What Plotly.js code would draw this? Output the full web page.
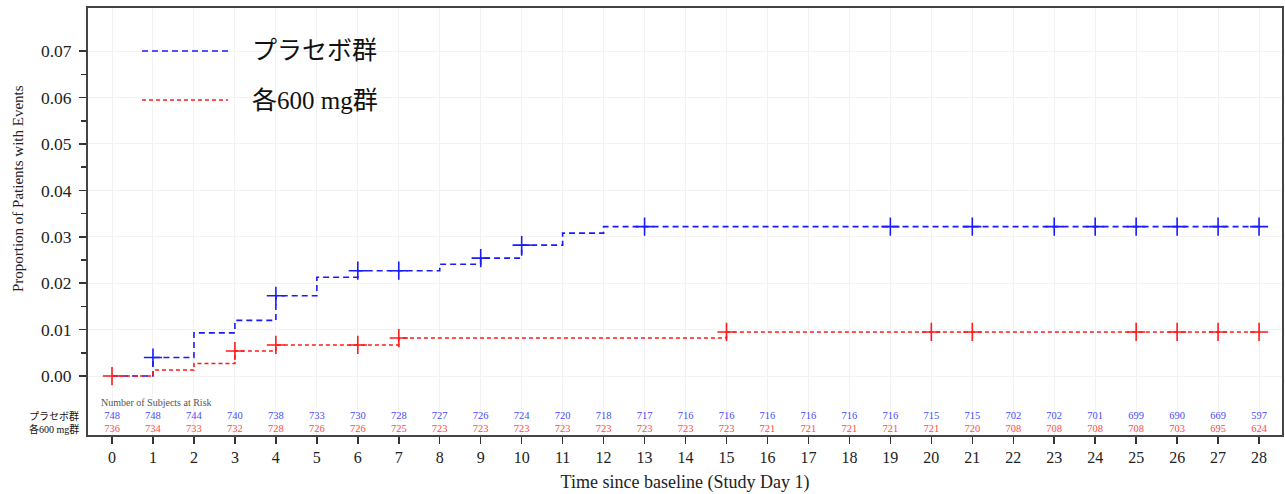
<!DOCTYPE html>
<html>
<head>
<meta charset="utf-8">
<script src="https://cdn.plot.ly/plotly-3.0.1.min.js"></script>
<style>html,body{margin:0;padding:0;background:#fff;}#chart{width:1285px;height:494px;}</style>
</head>
<body>
<div id="chart"></div>
<script>
// ---- data ----
const seriesNames = ["プラセボ群", "各600 mg群"];
const days = [0,1,2,3,4,5,6,7,8,9,10,11,12,13,14,15,16,17,18,19,20,21,22,23,24,25,26,27,28];

const placeboTimes = [0, 1, 2, 3, 4, 5, 6, 8, 9, 10, 11, 12, 28];
const placeboProp  = [0, 0.0040, 0.0093, 0.0120, 0.0173, 0.0213, 0.0227, 0.0241, 0.0254, 0.0282, 0.0308, 0.0322, 0.0322];
const placeboCensor = [1, 4, 6, 7, 9, 10, 13, 19, 21, 23, 24, 25, 26, 27, 28];

const activeTimes = [0, 1, 2, 3, 4, 7, 15, 28];
const activeProp  = [0, 0.0013, 0.0027, 0.0054, 0.0067, 0.0082, 0.0095, 0.0095];
const activeCensor = [0, 3, 4, 6, 7, 15, 20, 21, 25, 26, 27, 28];

const placeboAtRisk = [748,748,744,740,738,733,730,728,727,726,724,720,718,717,716,716,716,716,716,716,715,715,702,702,701,699,690,669,597];
const activeAtRisk  = [736,734,733,732,728,726,726,725,723,723,723,723,723,723,723,723,721,721,721,721,721,720,708,708,708,708,703,695,624];

const atRiskTitle = "Number of Subjects at Risk";
const xTitle = "Time since baseline (Study Day 1)";
const yTitle = "Proportion of Patients with Events";
const yTickVals = [0, 0.01, 0.02, 0.03, 0.04, 0.05, 0.06, 0.07];

// ---- helpers ----
function stepAt(times, vals, t) {
  let v = vals[0];
  for (let i = 0; i < times.length; i++) { if (times[i] <= t) v = vals[i]; }
  return v;
}

const BLUE = '#1a1aff', RED = '#ff1a1a';
const SERIF = '"Liberation Serif", "Times New Roman", "Noto Sans CJK JP", serif';

const traces = [
  {x: placeboTimes, y: placeboProp, mode: 'lines', line: {shape: 'hv', color: BLUE, width: 1.6, dash: '6px,4px'}, showlegend: false, hoverinfo: 'skip'},
  {x: activeTimes, y: activeProp, mode: 'lines', line: {shape: 'hv', color: RED, width: 1.6, dash: '4px,3px'}, showlegend: false, hoverinfo: 'skip'},
  {x: placeboCensor, y: placeboCensor.map(t => stepAt(placeboTimes, placeboProp, t)), mode: 'markers',
   marker: {symbol: 'cross-thin-open', size: 13, color: BLUE, line: {color: BLUE, width: 1.6}}, showlegend: false},
  {x: activeCensor, y: activeCensor.map(t => stepAt(activeTimes, activeProp, t)), mode: 'markers',
   marker: {symbol: 'cross-thin-open', size: 13, color: RED, line: {color: RED, width: 1.6}}, showlegend: false},
  {x: days, y: days.map(() => -0.0086), mode: 'text', text: placeboAtRisk.map(String),
   textfont: {family: SERIF, size: 10.5, color: '#4a4aff'}, showlegend: false, hoverinfo: 'skip'},
  {x: days, y: days.map(() => -0.0114), mode: 'text', text: activeAtRisk.map(String),
   textfont: {family: SERIF, size: 10.5, color: '#ff4a4a'}, showlegend: false, hoverinfo: 'skip'}
];

const layout = {
  width: 1285, height: 494,
  margin: {l: 88, r: 3, t: 8, b: 59},
  paper_bgcolor: '#fff', plot_bgcolor: '#fff',
  font: {family: SERIF, color: '#222'},
  showlegend: false,
  xaxis: {
    range: [-0.586, 28.56],
    tickvals: days, ticktext: days.map(String),
    ticks: 'outside', ticklen: 7, tickwidth: 1.5, tickcolor: '#333',
    tickfont: {family: SERIF, size: 16, color: '#222'},
    showgrid: true, gridcolor: '#f2f2f2', gridwidth: 1,
    zeroline: false,
    showline: true, linecolor: '#444', linewidth: 2, mirror: true,
    title: {text: xTitle, font: {family: SERIF, size: 18, color: '#222'}, standoff: 10}
  },
  yaxis: {
    range: [-0.0127, 0.0793],
    tickvals: yTickVals, ticktext: yTickVals.map(v => v.toFixed(2)),
    ticks: 'outside', ticklen: 7, tickwidth: 1.5, tickcolor: '#333',
    tickfont: {family: SERIF, size: 17.5, color: '#222'},
    ticklabelstandoff: 4,
    showgrid: true, gridcolor: '#f2f2f2', gridwidth: 1,
    zeroline: false,
    showline: true, linecolor: '#444', linewidth: 2, mirror: true,
    minor: {tickvals: [0.005,0.015,0.025,0.035,0.045,0.055,0.065], ticks: 'outside', ticklen: 5, tickwidth: 1.5, tickcolor: '#333', showgrid: false}
  },
  shapes: [
    {type: 'line', xref: 'paper', yref: 'paper', x0: 0.0452, x1: 0.1173, y0: 0.8993, y1: 0.8993, line: {color: BLUE, width: 1.6, dash: '6px,4px'}},
    {type: 'line', xref: 'paper', yref: 'paper', x0: 0.0452, x1: 0.1173, y0: 0.7845, y1: 0.7845, line: {color: RED, width: 1.6, dash: '4px,3px'}}
  ],
  annotations: [
    {xref: 'paper', yref: 'paper', x: -0.0586, y: 0.576, xanchor: 'center', yanchor: 'middle', textangle: -90, text: yTitle, showarrow: false, font: {family: SERIF, size: 15, color: '#222'}},
    {xref: 'paper', yref: 'paper', x: 0.1357, y: 0.8993, xanchor: 'left', yanchor: 'middle', text: seriesNames[0], showarrow: false, font: {family: SERIF, size: 25, color: '#111'}},
    {xref: 'paper', yref: 'paper', x: 0.1357, y: 0.7845, xanchor: 'left', yanchor: 'middle', text: seriesNames[1], showarrow: false, font: {family: SERIF, size: 25, color: '#111'}},
    {xref: 'paper', yref: 'paper', x: 0.009, y: 0.075, xanchor: 'left', yanchor: 'middle', text: atRiskTitle, showarrow: false, font: {family: SERIF, size: 10, color: '#555'}},
    {xref: 'paper', yref: 'y', x: -0.006, y: -0.0086, xanchor: 'right', yanchor: 'middle', text: seriesNames[0], showarrow: false, font: {family: SERIF, size: 10, color: '#111'}},
    {xref: 'paper', yref: 'y', x: -0.006, y: -0.0114, xanchor: 'right', yanchor: 'middle', text: seriesNames[1], showarrow: false, font: {family: SERIF, size: 10, color: '#111'}}
  ]
};

Plotly.newPlot('chart', traces, layout, {displayModeBar: false, staticPlot: true});
</script>
</body>
</html>
